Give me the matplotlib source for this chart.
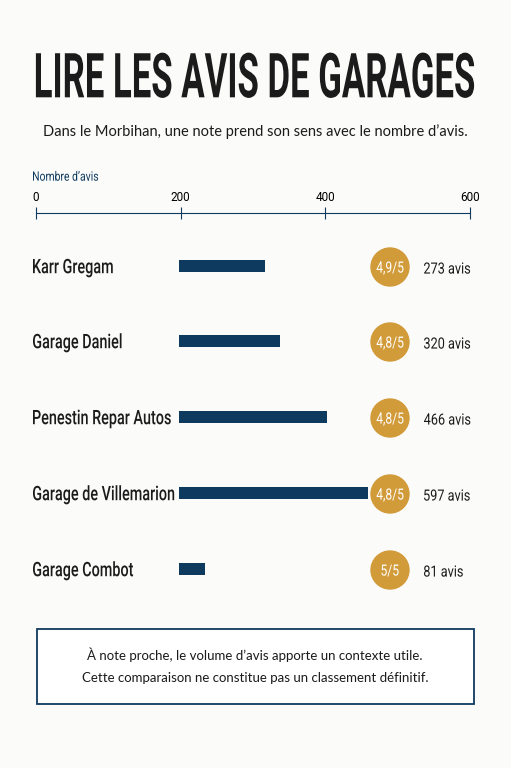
import matplotlib
matplotlib.use("Agg")
import matplotlib.pyplot as plt
from matplotlib.patches import FancyBboxPatch, Circle, PathPatch
from matplotlib.textpath import TextPath
from matplotlib.font_manager import FontProperties
from matplotlib.transforms import Affine2D

garages = ["Karr Gregam", "Garage Daniel", "Penestin Repar Autos", "Garage de Villemarion", "Garage Combot"]
avis = [273, 320, 466, 597, 81]
notes = ["4,9/5", "4,8/5", "4,8/5", "4,8/5", "5/5"]
ticks = [0, 200, 400, 600]

W, H = 511, 768
fig = plt.figure(figsize=(W/100, H/100), dpi=100)
fig.patch.set_facecolor("#fbfbfa")
bg = fig.add_axes([0, 0, 1, 1])
bg.set_xlim(0, W); bg.set_ylim(H, 0); bg.axis("off")

navy = "#0f3a5f"; gold = "#d29b3a"; ink = "#1b1b1b"

def ctext(x, y, s, size, sx=0.7, ha="left", weight="normal", color=ink, family="Roboto"):
    """Condensed text: size = cap height-ish in pixels, sx = horizontal squeeze."""
    tp = TextPath((0, 0), s, size=size, prop=FontProperties(family=family, weight=weight))
    ext = tp.get_extents()
    w = ext.width * sx
    h = size * 0.72
    if ha == "center":
        x0 = x - w / 2 - ext.x0 * sx
    elif ha == "right":
        x0 = x - w - ext.x0 * sx
    else:
        x0 = x - ext.x0 * sx
    tr = Affine2D().scale(sx, -1).translate(x0, y + h / 2)
    bg.add_patch(PathPatch(tr.transform_path(tp), fc=color, ec="none", lw=0))

ctext(255, 75, "LIRE LES AVIS DE GARAGES", 62, sx=0.56, ha="center", weight="bold")
bg.text(255, 132, "Dans le Morbihan, une note prend son sens avec le nombre d’avis.",
        ha="center", va="center", fontsize=10.5, family="Lato", color=ink)
ctext(33, 176, "Nombre d’avis", 13, sx=0.8, color=navy)

# top axis
ax = fig.add_axes([36/W, 1-214/H, (470-36)/W, 0.001])
ax.set_xlim(0, 600)
ax.set_facecolor("none")
for s in ["left", "right", "bottom"]:
    ax.spines[s].set_visible(False)
ax.spines["top"].set_color(navy)
ax.xaxis.tick_top()
ax.set_xticks(ticks)
ax.set_xticklabels([str(t) for t in ticks], family="Roboto", fontsize=8.5)
ax.tick_params(axis="x", direction="inout", length=8, color=navy, pad=3)
ax.set_yticks([])

# bars
ys = [266, 341, 417, 493, 569]
bax = fig.add_axes([179/W, 1-600/H, 190/W, (600-236)/H])
bax.set_xlim(0, 600); bax.set_ylim(600, 236); bax.axis("off")
bax.barh(ys, avis, height=12, color=navy, left=0)

for y, g, n, a in zip(ys, garages, notes, avis):
    ctext(33, y, g, 20, sx=0.72, weight="medium")
    bg.add_patch(Circle((390, y+1), 19, color=gold))
    ctext(390, y+1, n, 15.5, sx=0.78, ha="center", color="white")
    ctext(424, y+2, f"{a} avis", 15.5, sx=0.82)

bg.add_patch(FancyBboxPatch((37, 629), 437, 75, boxstyle="square,pad=0", fc="white", ec=navy, lw=1.3))
bg.text(255, 655, "À note proche, le volume d’avis apporte un contexte utile.", ha="center", va="center",
        fontsize=9.5, family="Lato", color=ink)
bg.text(255, 678, "Cette comparaison ne constitue pas un classement définitif.", ha="center", va="center",
        fontsize=9.5, family="Lato", color=ink)

fig.savefig("out.png", dpi=100, facecolor=fig.get_facecolor())
